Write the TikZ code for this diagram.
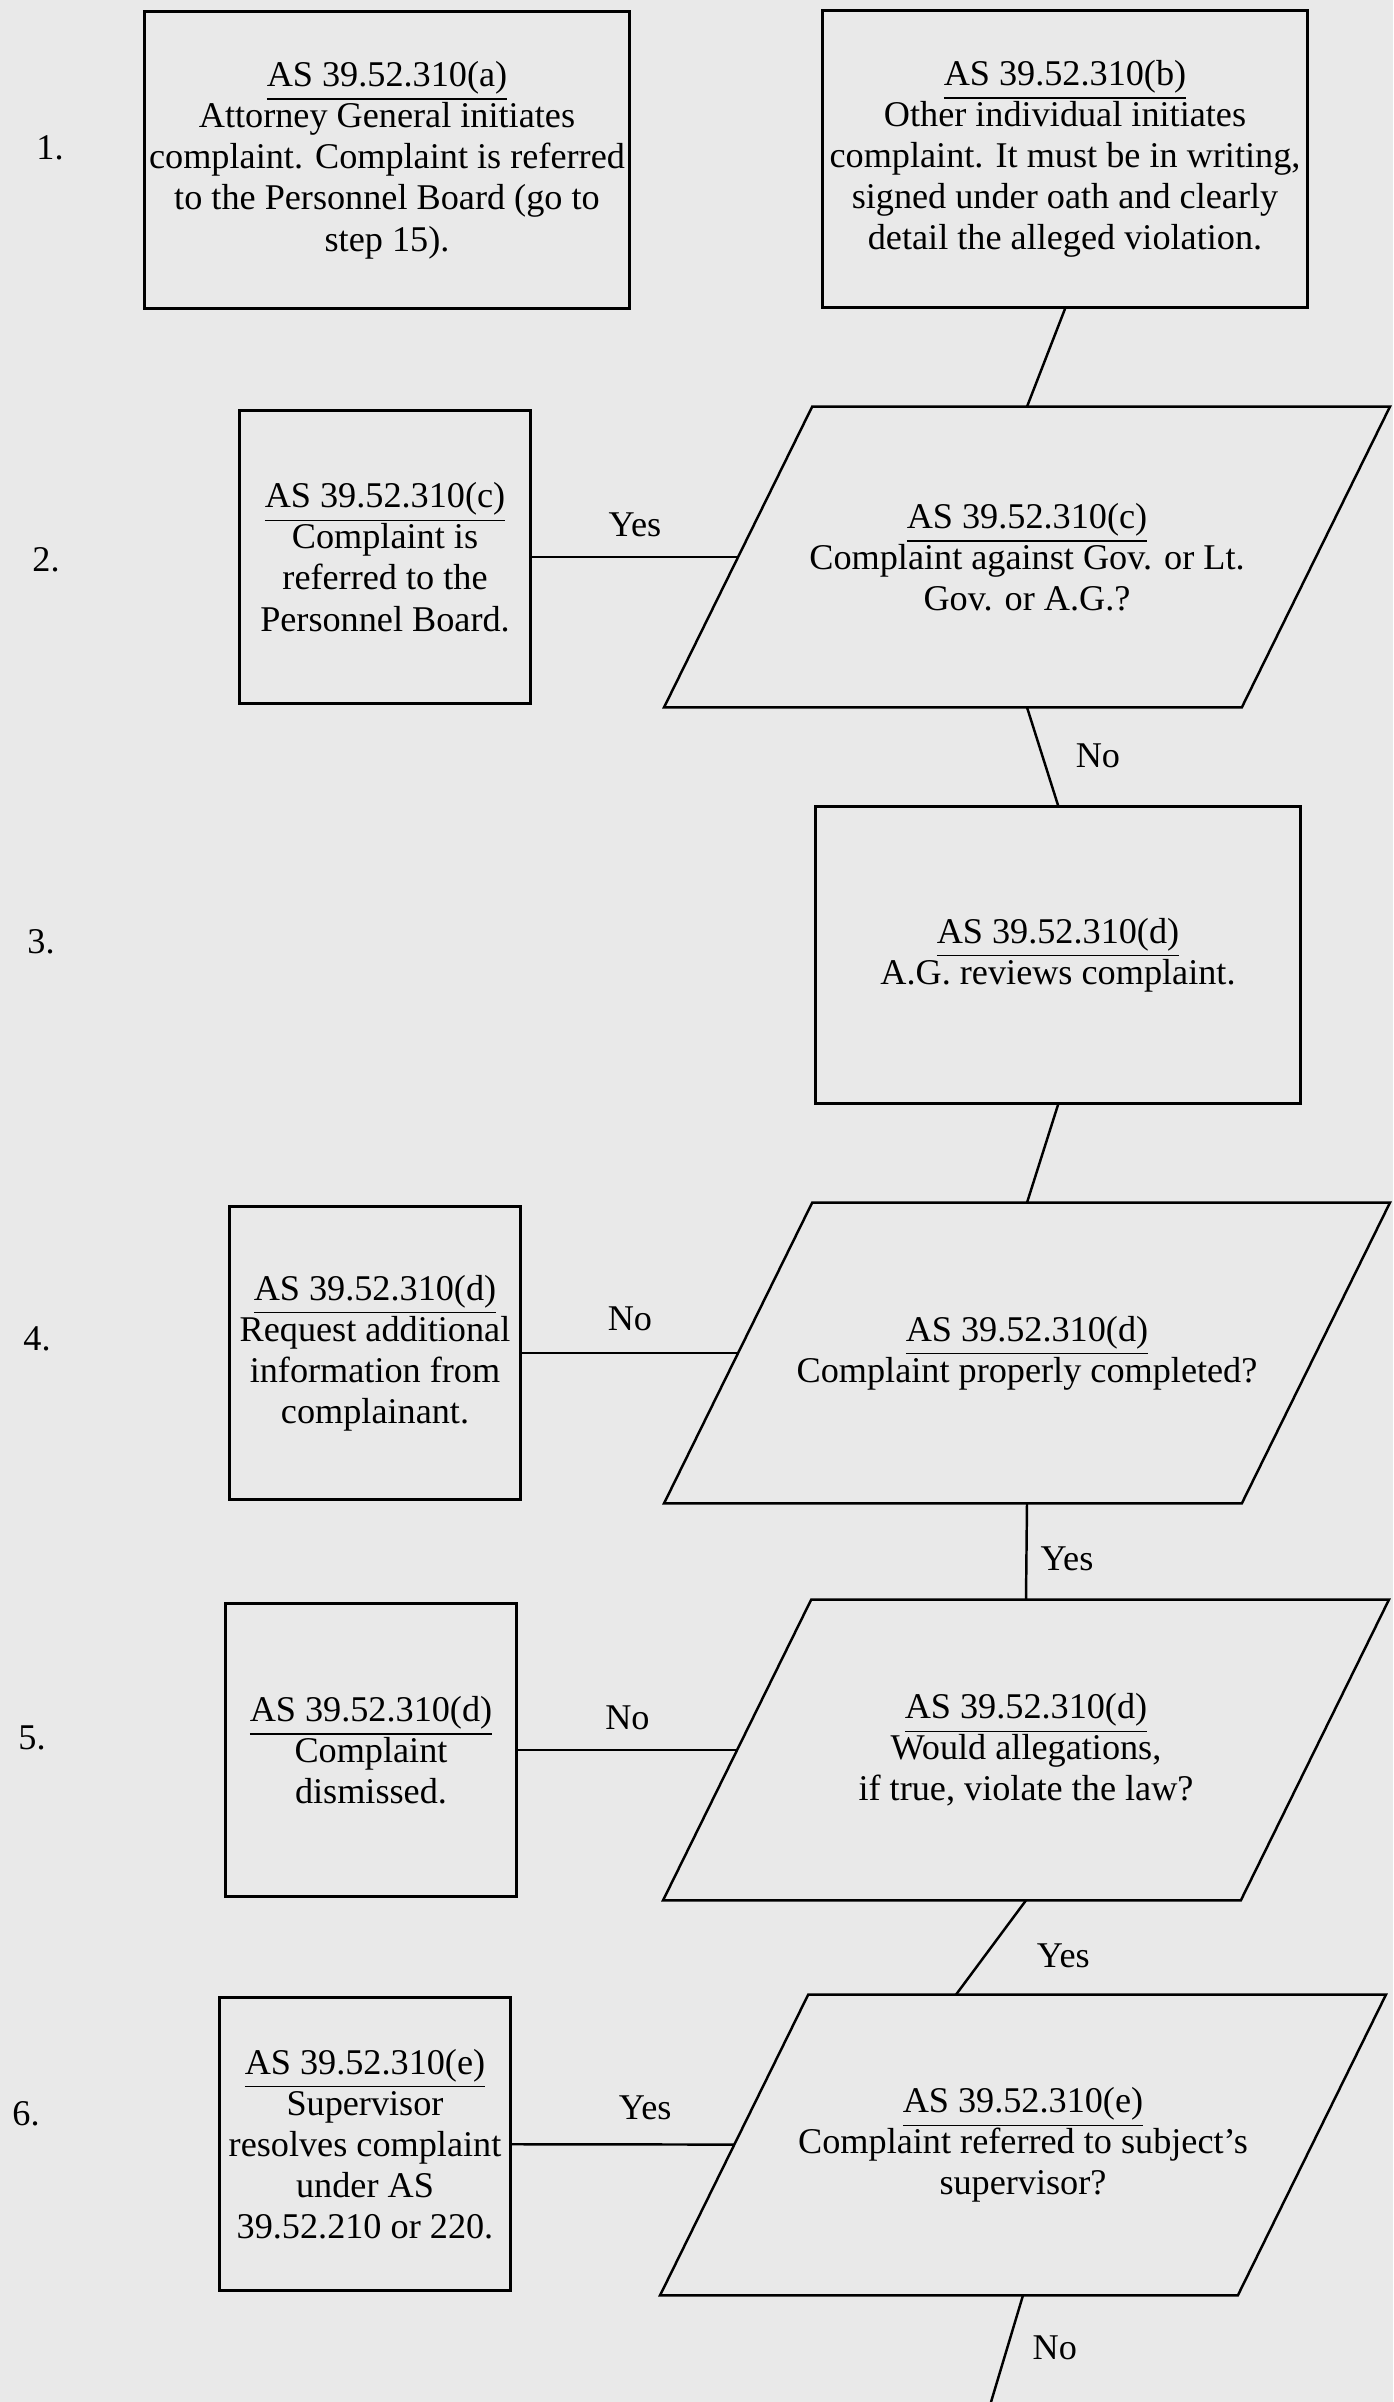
\documentclass[tikz,border=0pt]{standalone}
\usepackage{fontspec}
\setmainfont{Liberation Serif}
\usepackage{tikz}
\usetikzlibrary{positioning}
\definecolor{scanbg}{RGB}{233,233,233}

\begin{document}
\begin{tikzpicture}[x = 0.01cm, y = -0.01cm, line width = 0.7pt,
		every node/.append style = {font=\fontsize{10.3}{11.7}\selectfont, align=center},
		stepbox/.style = {draw, rectangle, inner sep=0pt},
		widebox/.style = {stepbox, minimum width=4.85cm, minimum height=2.97cm},
		sidebox/.style = {stepbox, minimum width=2.91cm, minimum height=2.93cm},
		question/.style = {rectangle, inner sep=0pt, minimum width=5.75cm, minimum height=2.98cm}]
	\useasboundingbox (0,0) rectangle (1393,2402);
	\fill[scanbg] (0,0) rectangle (1393,2402);

	\node (s1) at (50,148) {1.};
	\node (s2) at (46,560) {2.};
	\node (s3) at (41,942) {3.};
	\node (s4) at (37,1339) {4.};
	\node (s5) at (32,1738) {5.};
	\node (s6) at (26,2114) {6.};

	\node[widebox] (a1) at (387,160) {\underline{AS 39.52.310(a)}\\Attorney General initiates\\complaint. Complaint is referred\\to the Personnel Board (go to\\step 15).};
	\node[widebox] (b1) at (1065,159) {\underline{AS 39.52.310(b)}\\Other individual initiates\\complaint. It must be in writing,\\signed under oath and clearly\\detail the alleged violation.};

	\node[sidebox] (c2) at (385,557) {\underline{AS 39.52.310(c)}\\Complaint is\\referred to the\\Personnel Board.};
	\node[question] (p2) at (1027,557) {\underline{AS 39.52.310(c)}\\Complaint against Gov. or Lt.\\Gov. or A.G.?};

	\node[widebox] (d3) at (1058,955) {\underline{AS 39.52.310(d)}\\A.G. reviews complaint.};

	\node[sidebox] (d4) at (375,1353) {\underline{AS 39.52.310(d)}\\Request additional\\information from\\complainant.};
	\node[question] (p4) at (1027,1353) {\underline{AS 39.52.310(d)}\\Complaint properly completed?};

	\node[sidebox] (d5) at (371,1750) {\underline{AS 39.52.310(d)}\\Complaint\\dismissed.};
	\node[question] (p5) at (1026,1750) {\underline{AS 39.52.310(d)}\\Would allegations,\\if true, violate the law?};

	\node[sidebox] (e6) at (365,2144) {\underline{AS 39.52.310(e)}\\Supervisor\\resolves complaint\\under AS\\39.52.210 or 220.};
	\node[question] (p6) at (1023,2145) {\underline{AS 39.52.310(e)}\\Complaint referred to subject's\\supervisor?};

	\foreach \q in {p2, p4, p5, p6}
		\draw ([xshift=0.74cm]\q.north west) -- ([xshift=0.74cm]\q.north east)
			-- ([xshift=-0.74cm]\q.south east) -- ([xshift=-0.74cm]\q.south west) -- cycle;

	\coordinate (cont) at (991,2402);

	\path[draw, every node/.append style={inner sep=2pt}]
		(b1.south) edge (p2.north)
		(c2) edge node[above=0.12cm] {Yes} (p2)
		(p2.south) edge node[right=0.25cm] {No} (d3.north)
		(d3.south) edge (p4.north)
		(d4) edge node[above=0.14cm] {No} (p4)
		(p4.south) edge node[pos=0.58, right=0.06cm] {Yes} (p5.north)
		(d5) edge node[above=0.12cm] {No} (p5)
		(p5.south) edge node[pos=0.59, right=0.44cm] {Yes} ([xshift=-0.67cm]p6.north)
		(e6) edge node[pos=0.6, above=0.16cm] {Yes} (p6)
		(p6.south) edge node[pos=0.49, right=0.17cm] {No} (cont);
\end{tikzpicture}
\end{document}
